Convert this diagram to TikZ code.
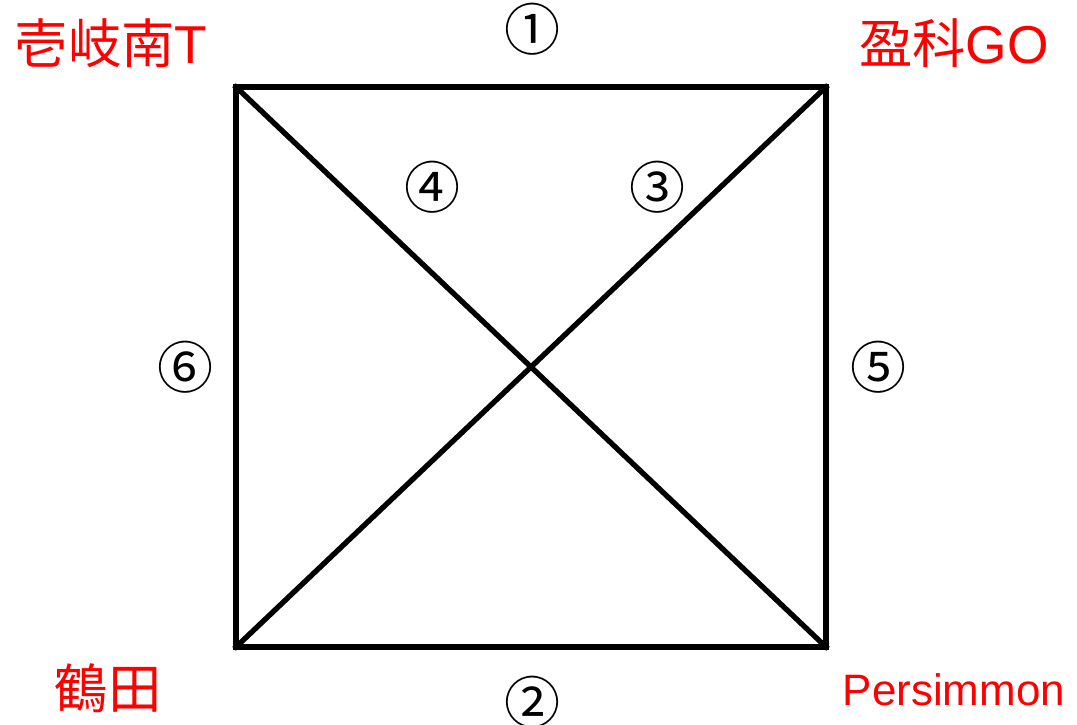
\documentclass[tikz,border=0pt]{standalone}
\usepackage{fontspec}
\newfontfamily\cjk{Noto Sans CJK JP}
\newfontfamily\lat{Liberation Sans}
\usepackage{tikz}
\usetikzlibrary{calc, positioning}
\definecolor{station}{RGB}{255, 0, 0}

\begin{document}
\begin{tikzpicture}[
  x=0.75pt, y=-0.75pt,
  every node/.style={inner sep=0pt},
  place/.style={font=\cjk\fontsize{40}{40}\selectfont, text=station},
  route/.style={font=\cjk\fontsize{42}{42}\selectfont},
  edge/.style={line width=4pt, line cap=rect, line join=miter}
]
  \useasboundingbox (0,0) rectangle (1077,724);

  % --- corners ---
  \coordinate (nw) at (236,87);
  \coordinate (ne) at (826,87);
  \coordinate (sw) at (236,647);
  \coordinate (se) at (826,647);

  % --- connections ---
  \draw[edge] (nw) -- (ne) -- (se) -- (sw) -- cycle;
  \draw[edge] (nw) -- (se);
  \draw[edge] (ne) -- (sw);

  % --- station names ---
  \node[place] (iki) at (111,43) {壱岐南{\lat T}};
  \node[place] (eika) at (954,43) {盈科{\lat GO}};
  \node[place] (tsuru) at (108,688) {鶴田};
  \node[place, font=\lat\fontsize{33}{33}\selectfont] (kaki) at (954,690) {Persimmon};

  % --- route numbers ---
  \node[route] (r1) at (532,29) {①};
  \node[route] (r2) at (532,702) {②};
  \node[route] (r3) at (657,187) {③};
  \node[route] (r4) at (432,187) {④};
  \node[route] (r5) at (878,367) {⑤};
  \node[route] (r6) at (185,367) {⑥};
\end{tikzpicture}
\end{document}
